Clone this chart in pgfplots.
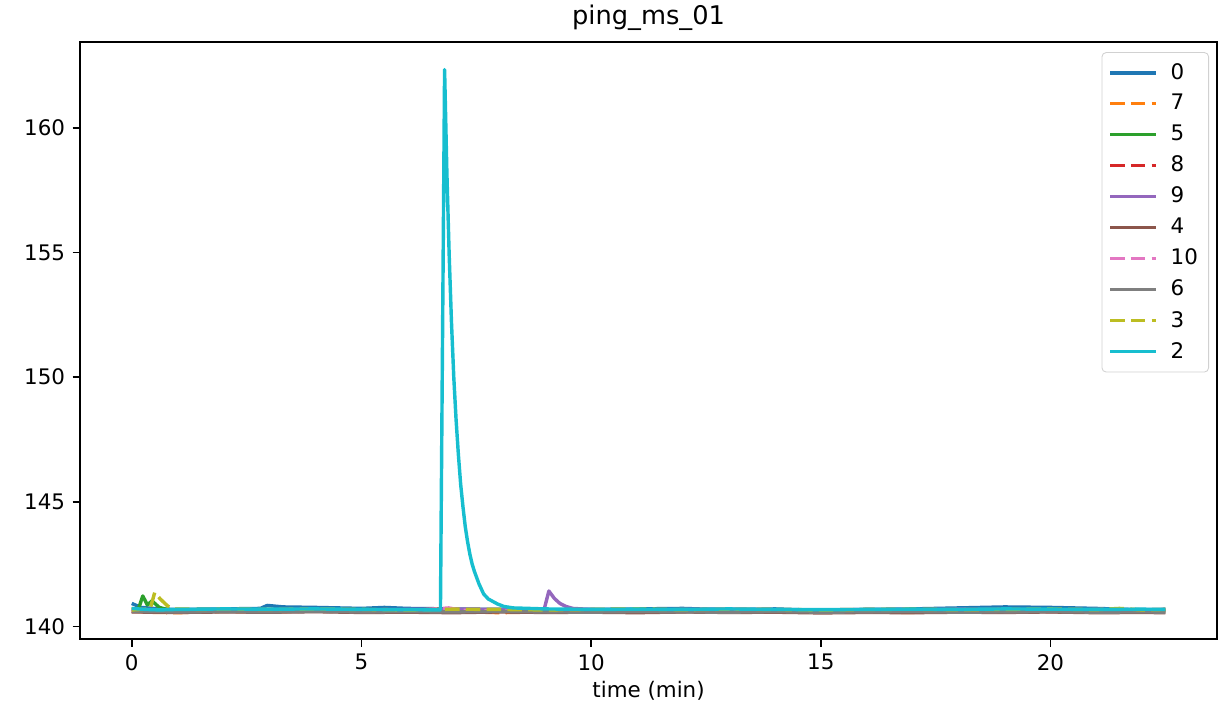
\documentclass[border=0pt]{standalone}
\usepackage{fontspec}
\setmainfont{DejaVu Sans}
\usepackage{pgfplots}
\pgfplotsset{compat=1.18}
\definecolor{c0}{HTML}{1F77B4}
\definecolor{c1}{HTML}{FF7F0E}
\definecolor{c2}{HTML}{2CA02C}
\definecolor{c3}{HTML}{D62728}
\definecolor{c4}{HTML}{9467BD}
\definecolor{c5}{HTML}{8C564B}
\definecolor{c6}{HTML}{E377C2}
\definecolor{c7}{HTML}{7F7F7F}
\definecolor{c8}{HTML}{BCBD22}
\definecolor{c9}{HTML}{17BECF}
\begin{document}
\begin{tikzpicture}
\begin{axis}[
  name=ax,
  scale only axis,
  width=531pt, height=279pt,
  xmin=-1.125, xmax=23.625, ymin=139.48, ymax=163.45,
  xtick={0,5,10,15,20}, ytick={140,145,150,155,160},
  tick align=outside, tick pos=left,
  major tick length=3.5pt,
  every tick/.style={black, line width=0.8pt},
  axis line style={line width=0.8pt},
  /pgf/number format/assume math mode=true,
  ticklabel style={font=\fontsize{10}{12}\selectfont},
  title={ping\_ms\_01},
  title style={font=\fontsize{12}{14}\selectfont, at={(0.5,1)}, anchor=center, yshift=5.2pt},
  xlabel={time (min)},
  xlabel style={font=\fontsize{10}{12}\selectfont, yshift=2pt},
  legend cell align=left,
  legend style={at={(0.993,0.983)}, anchor=north east, draw=black!18, rounded corners=2pt,
    font=\fontsize{10}{12}\selectfont, row sep=1.6pt, inner sep=3pt, fill=white, fill opacity=0.8, text opacity=1},
  legend image code/.code={\draw[#1] (0pt,0pt) -- (21.5pt,0pt); \path (25.5pt,0pt);},
  every axis plot/.append style={line width=1.6pt, line join=round},
  dashpat/.style={dash pattern=on 6.8pt off 2.9pt},
]
% 0
\addplot[c0] coordinates {(0,140.92) (0.2,140.76) (0.6,140.70) (1,140.68) (2,140.70) (2.8,140.72) (2.95,140.84) (3.3,140.78) (4,140.76) (5,140.72) (5.5,140.76) (6,140.72) (7,140.70) (8,140.68) (9,140.66) (10,140.68) (11,140.70) (12,140.72) (13,140.66) (14,140.70) (15,140.64) (16,140.68) (17,140.70) (18,140.74) (19,140.78) (20,140.76) (21,140.72) (22,140.66) (22.5,140.68)};
\addlegendentry{0}
% 7
\addplot[c1, dashpat] coordinates {(0,140.62) (0.5,140.56) (1,140.55) (2,140.60) (3,140.58) (4,140.62) (5,140.57) (6,140.58) (7,140.60) (8,140.55) (9,140.58) (10,140.60) (11,140.57) (12,140.62) (13,140.58) (14,140.57) (15,140.60) (16,140.58) (17,140.56) (18,140.60) (19,140.58) (20,140.62) (21,140.57) (22,140.60) (22.5,140.58)};
\addlegendentry{7}
% 5
\addplot[c2] coordinates {(0,140.70) (0.15,140.72) (0.24,141.22) (0.34,140.86) (0.44,141.02) (0.6,140.76) (0.8,140.66) (1,140.64) (2,140.62) (3,140.65) (4,140.62) (5,140.64) (6,140.61) (7,140.63) (8,140.62) (9,140.64) (10,140.62) (11,140.60) (12,140.63) (13,140.62) (14,140.64) (15,140.60) (16,140.62) (17,140.64) (18,140.62) (19,140.65) (20,140.63) (21,140.62) (22,140.64) (22.5,140.62)};
\addlegendentry{5}
% 8
\addplot[c3, dashpat] coordinates {(0,140.60) (1,140.58) (2,140.61) (3,140.59) (4,140.62) (5,140.60) (6,140.58) (7,140.61) (8,140.60) (9,140.58) (10,140.60) (11,140.62) (12,140.59) (13,140.60) (14,140.58) (15,140.61) (16,140.59) (17,140.60) (18,140.58) (19,140.60) (20,140.59) (21,140.61) (22,140.58) (22.5,140.60)};
\addlegendentry{8}
% 9
\addplot[c4] coordinates {(0,140.68) (1,140.66) (2,140.68) (3,140.67) (4,140.69) (5,140.66) (6,140.68) (7,140.70) (8,140.68) (8.98,140.70) (9.08,141.42) (9.2,141.12) (9.32,140.92) (9.45,140.80) (9.6,140.72) (10,140.68) (11,140.66) (12,140.68) (13,140.70) (14,140.67) (15,140.66) (16,140.68) (17,140.67) (18,140.69) (19,140.68) (20,140.66) (21,140.68) (22,140.67) (22.5,140.68)};
\addlegendentry{9}
% 4
\addplot[c5] coordinates {(0,140.58) (1,140.56) (2,140.58) (3,140.57) (4,140.59) (5,140.56) (6,140.57) (7,140.55) (8,140.58) (9,140.56) (10,140.57) (11,140.55) (12,140.58) (13,140.56) (14,140.57) (15,140.54) (16,140.56) (17,140.55) (18,140.57) (19,140.56) (20,140.58) (21,140.55) (22,140.56) (22.5,140.55)};
\addlegendentry{4}
% 10
\addplot[c6, dashpat] coordinates {(0,140.62) (1,140.60) (2,140.63) (3,140.61) (4,140.62) (5,140.60) (6,140.61) (6.9,140.74) (7.2,140.64) (8,140.62) (9,140.60) (10,140.62) (11,140.61) (12,140.63) (13,140.60) (14,140.62) (15,140.61) (16,140.60) (17,140.63) (18,140.61) (19,140.60) (20,140.62) (21,140.60) (22,140.61) (22.5,140.60)};
\addlegendentry{10}
% 6
\addplot[c7] coordinates {(0,140.60) (1,140.58) (2,140.59) (3,140.58) (4,140.60) (5,140.58) (6,140.59) (7,140.58) (8,140.60) (9,140.58) (10,140.57) (11,140.59) (12,140.58) (13,140.57) (14,140.59) (15,140.57) (16,140.58) (17,140.59) (18,140.57) (19,140.58) (20,140.59) (21,140.57) (22,140.58) (22.5,140.57)};
\addlegendentry{6}
% 3
\addplot[c8, dashpat] coordinates {(0,140.66) (0.4,140.70) (0.5,141.36) (0.62,141.10) (0.78,140.82) (0.9,140.70) (1.5,140.68) (2,140.70) (3,140.68) (4,140.70) (5,140.68) (6,140.66) (7,140.69) (8,140.68) (9,140.66) (10,140.68) (11,140.70) (12,140.67) (13,140.69) (14,140.68) (15,140.66) (16,140.68) (17,140.69) (18,140.67) (19,140.68) (20,140.70) (21,140.67) (21.5,140.72) (22,140.66) (22.5,140.68)};
\addlegendentry{3}
% 2
\addplot[c9] coordinates {(0,140.72) (0.3,140.68) (0.6,140.66) (1,140.68) (2,140.70) (3,140.69) (4,140.70) (5,140.68) (6,140.67) (6.72,140.66) (6.81,162.34) (6.86,158.2) (6.91,154.9) (6.96,152.2) (7.01,150.0) (7.06,148.3) (7.11,146.9) (7.16,145.7) (7.21,144.8) (7.26,144.0) (7.31,143.4) (7.36,142.9) (7.41,142.5) (7.46,142.2) (7.56,141.7) (7.66,141.3) (7.76,141.1) (7.86,141.0) (7.96,140.9) (8.1,140.8) (8.3,140.74) (9,140.70) (10,140.68) (11,140.69) (12,140.68) (13,140.70) (14,140.68) (15,140.67) (16,140.68) (17,140.69) (18,140.68) (19,140.70) (20,140.69) (21,140.68) (22,140.69) (22.5,140.68)};
\addlegendentry{2}
\end{axis}
\pgfresetboundingbox
\path ([xshift=-37.4pt,yshift=-40.2pt]ax.south west) rectangle ([xshift=4.2pt,yshift=19.6pt]ax.north east);
\end{tikzpicture}
\end{document}
